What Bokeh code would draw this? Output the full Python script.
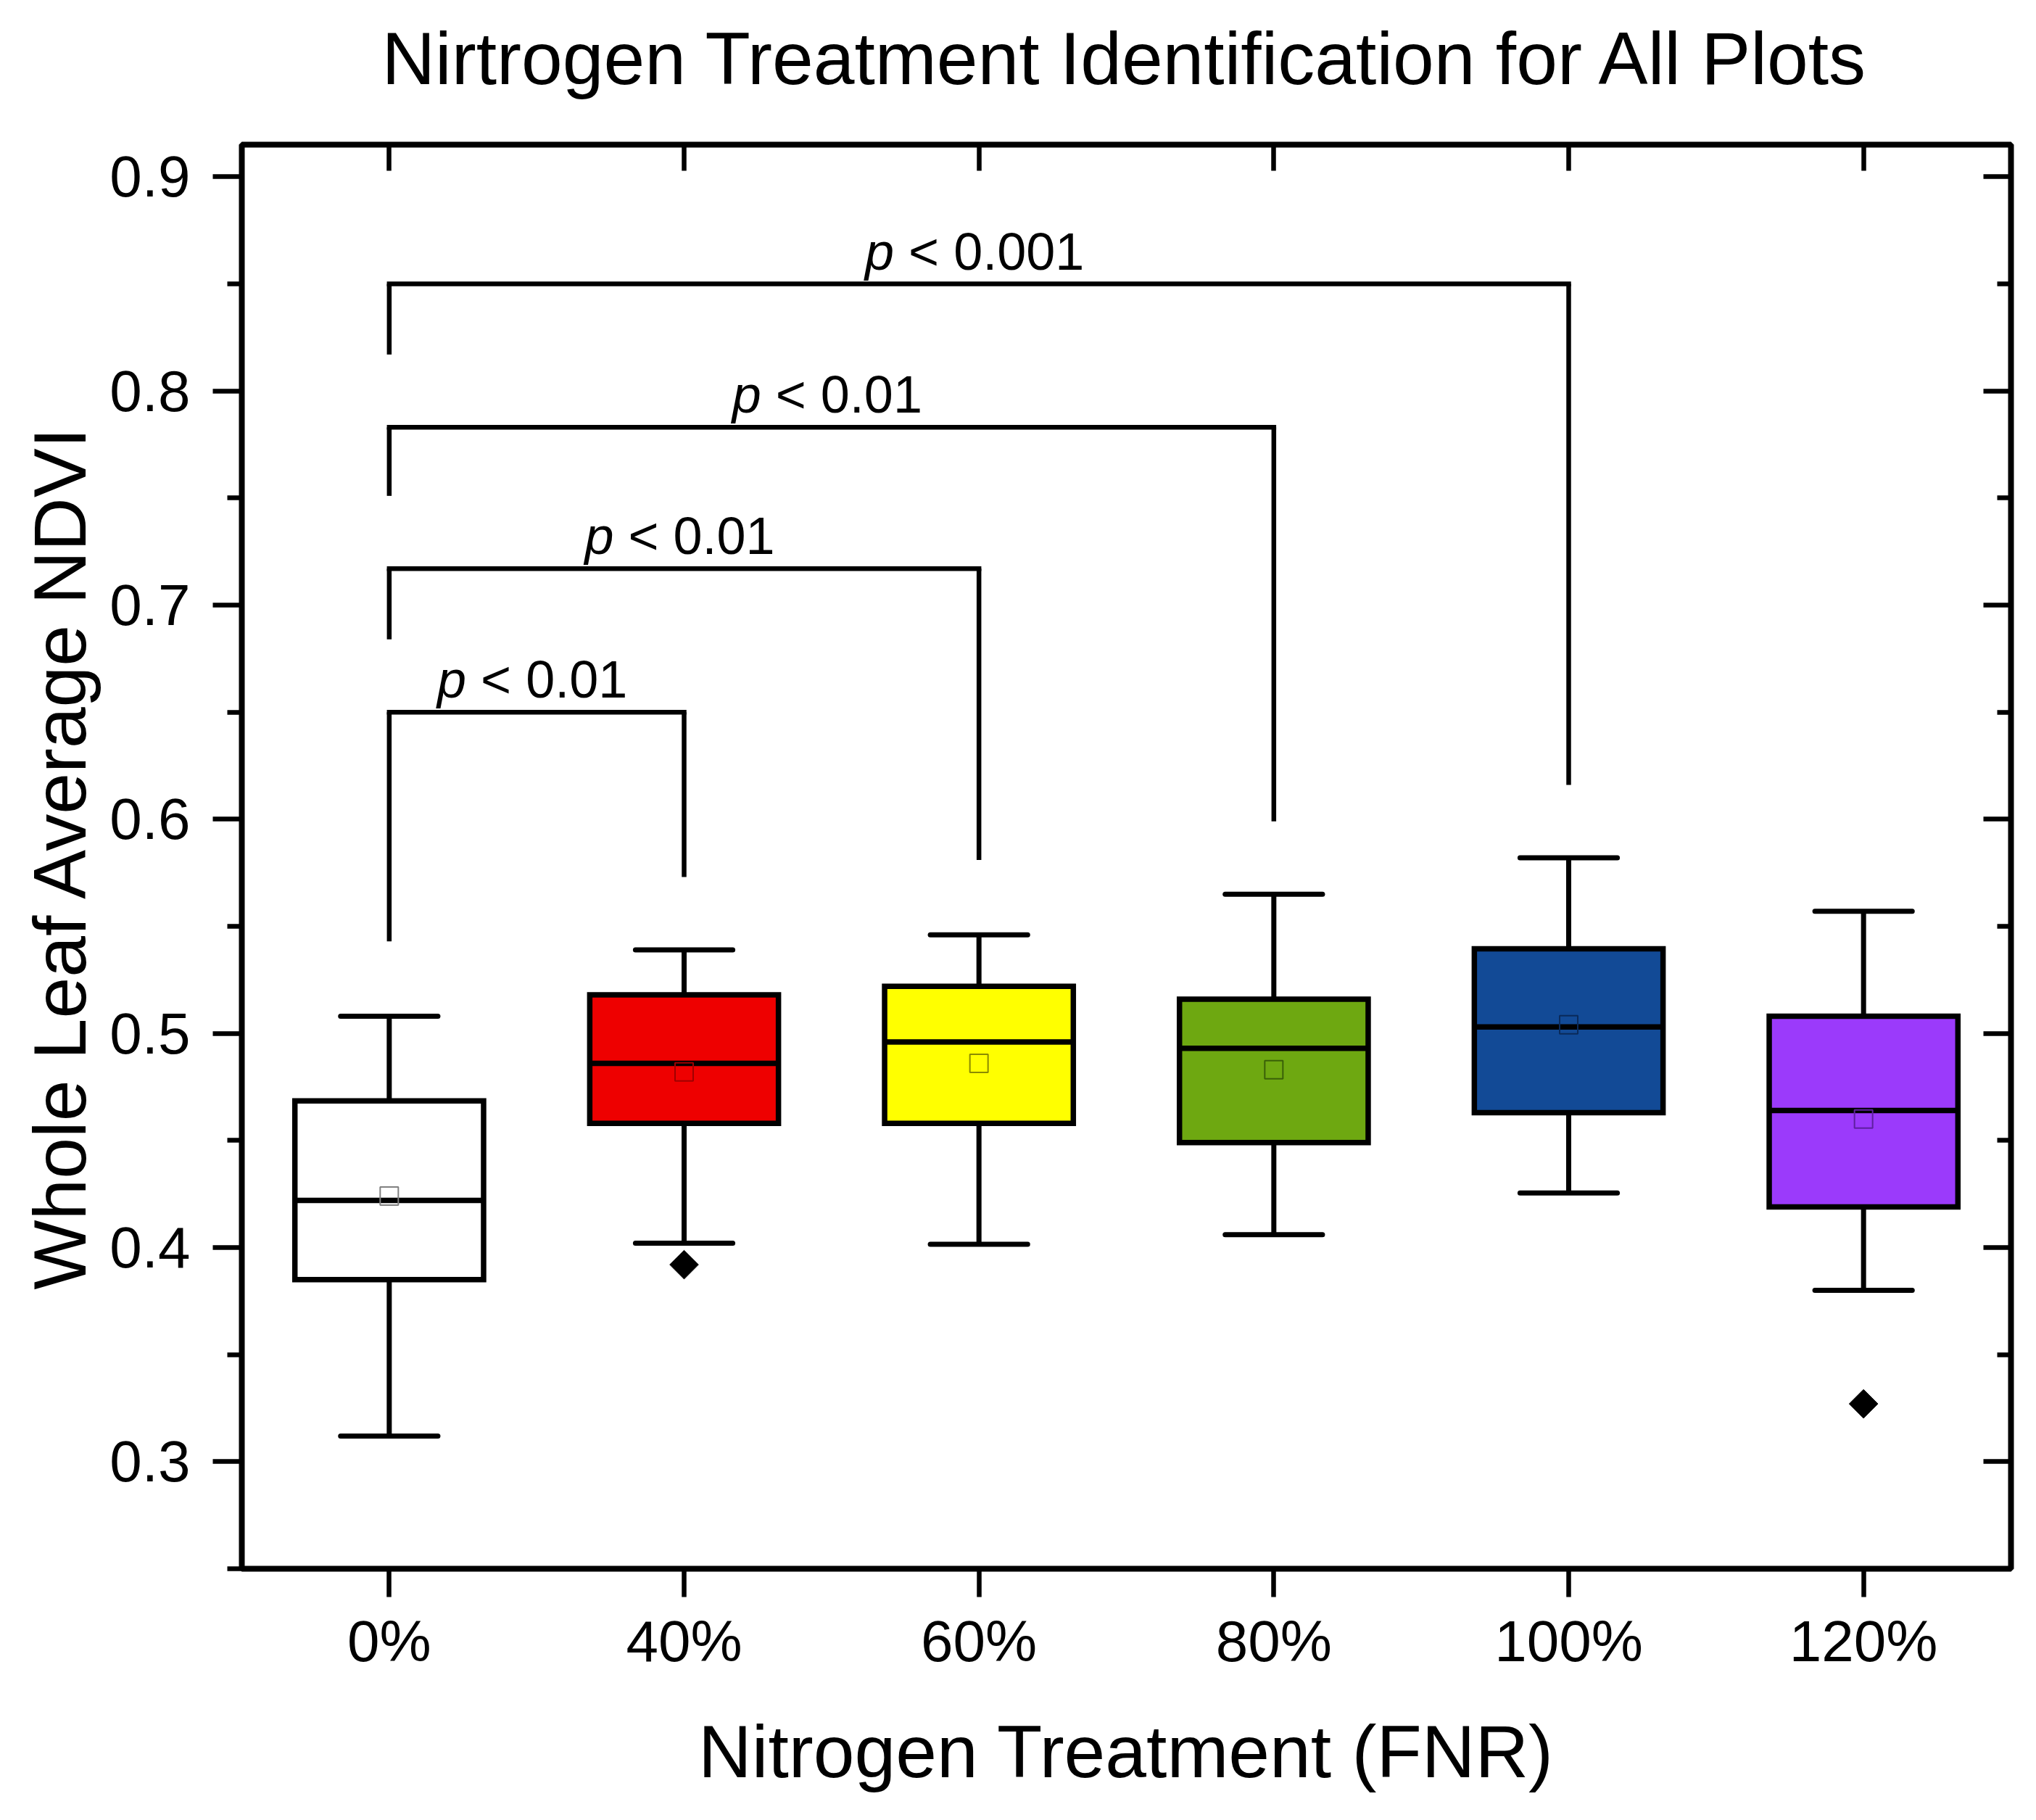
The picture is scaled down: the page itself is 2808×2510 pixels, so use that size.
from bokeh.plotting import figure
from bokeh.models import LinearAxis, FixedTicker, Range1d, ColumnDataSource, NumeralTickFormatter
from bokeh.core.properties import value
from bokeh.embed import file_html
from bokeh.resources import INLINE

# ---------------- data ----------------
title_text = "Nirtrogen Treatment Identification for All Plots"
categories = ["0%", "40%", "60%", "80%", "100%", "120%"]
whisker_hi = [0.508, 0.539, 0.546, 0.565, 0.582, 0.557]
q3 = [0.4685, 0.518, 0.522, 0.516, 0.5395, 0.508]
median = [0.422, 0.486, 0.496, 0.493, 0.503, 0.464]
q1 = [0.385, 0.458, 0.458, 0.449, 0.463, 0.419]
whisker_lo = [0.312, 0.402, 0.4015, 0.406, 0.4255, 0.380]
means = [0.424, 0.482, 0.486, 0.483, 0.504, 0.460]
outlier_idx = [1, 5]
outlier_val = [0.392, 0.327]

bracket_from = [0, 0, 0, 0]
bracket_to = [1, 2, 3, 4]
bracket_top = [0.650, 0.717, 0.783, 0.850]
bracket_left_end = [0.543, 0.684, 0.751, 0.817]
bracket_right_end = [0.573, 0.581, 0.599, 0.616]
p_text = ["< 0.01", "< 0.01", "< 0.01", "< 0.001"]

y_ticks = [0.3, 0.4, 0.5, 0.6, 0.7, 0.8, 0.9]
y_minor = [0.25, 0.35, 0.45, 0.55, 0.65, 0.75, 0.85]

# ---------------- styles ----------------
fills = ["#FFFFFF", "#EE0000", "#FFFF00", "#6EA811", "#124A96", "#9B3AFB"]
mean_line = ["#808080", "#A00000", "#8A8A00", "#3A6008", "#0A2A5A", "#5E1FA0"]
FONT = "Liberation Sans"
BOX_W = 0.64
CAP_W = 0.33
TEXT_LIFT = 0.0152   # centre of p-value text above its bracket (data units)

xs = list(range(len(categories)))

p = figure(width=2792, height=2494, output_backend="svg", toolbar_location=None,
           x_range=Range1d(-0.5, 5.5), y_range=Range1d(0.25, 0.915),
           min_border_left=333, min_border_right=19, min_border_top=199,
           min_border_bottom=331)
p.xgrid.grid_line_color = None
p.ygrid.grid_line_color = None
p.background_fill_color = "white"
p.border_fill_color = "white"
p.outline_line_color = "black"
p.outline_line_width = 8

# bottom axis
xa = p.xaxis[0]
xa.ticker = FixedTicker(ticks=xs, minor_ticks=[])
xa.major_label_overrides = {i: c for i, c in enumerate(categories)}
xa.axis_line_color = None
xa.major_tick_out = 39
xa.major_tick_in = 0
xa.major_tick_line_width = 6.5
xa.minor_tick_line_color = None
xa.major_label_text_font = FONT
xa.major_label_text_font_size = "80px"
xa.major_label_text_color = "black"
xa.major_label_standoff = 16
xa.axis_label = "Nitrogen Treatment (FNR)"
xa.axis_label_text_font = FONT
xa.axis_label_text_font_size = "102px"
xa.axis_label_text_font_style = "normal"
xa.axis_label_text_color = "black"
xa.axis_label_standoff = 48

# left axis
ya = p.yaxis[0]
ya.ticker = FixedTicker(ticks=y_ticks, minor_ticks=y_minor)
ya.formatter = NumeralTickFormatter(format="0.0")
ya.axis_line_color = None
ya.major_tick_out = 40
ya.major_tick_in = 0
ya.minor_tick_out = 20
ya.minor_tick_in = 0
ya.major_tick_line_width = 6.5
ya.minor_tick_line_width = 6.5
ya.major_label_text_font = FONT
ya.major_label_text_font_size = "80px"
ya.major_label_text_color = "black"
ya.major_label_standoff = 31
ya.axis_label = "Whole Leaf Average NDVI"
ya.axis_label_text_font = FONT
ya.axis_label_text_font_size = "102px"
ya.axis_label_text_font_style = "normal"
ya.axis_label_text_color = "black"
ya.axis_label_standoff = 8

# top axis (inward ticks); its axis label carries the chart title
top = LinearAxis(ticker=FixedTicker(ticks=xs, minor_ticks=[]),
                 major_tick_in=36, major_tick_out=0, major_tick_line_width=6.5,
                 minor_tick_line_color=None, axis_line_color=None,
                 major_label_text_font_size="0px", major_label_standoff=0,
                 major_label_text_color=None,
                 axis_label=title_text, axis_label_text_font=FONT,
                 axis_label_text_font_size="102px", axis_label_text_font_style="normal",
                 axis_label_text_color="black", axis_label_standoff=62)
p.add_layout(top, "above")

# right axis (inward ticks)
right = LinearAxis(ticker=FixedTicker(ticks=y_ticks, minor_ticks=y_minor),
                   major_tick_in=38, major_tick_out=0, minor_tick_in=19, minor_tick_out=0,
                   major_tick_line_width=6.5, minor_tick_line_width=6.5,
                   axis_line_color=None,
                   major_label_text_font_size="0px", major_label_standoff=0,
                   major_label_text_color=None)
p.add_layout(right, "right")

# ---------------- boxes ----------------
src = ColumnDataSource(dict(
    x=xs, hi=whisker_hi, q3=q3, med=median, q1=q1, lo=whisker_lo, mean=means,
    fill=fills, mline=mean_line,
    xl=[x - BOX_W / 2 for x in xs], xr=[x + BOX_W / 2 for x in xs],
    cl=[x - CAP_W / 2 for x in xs], cr=[x + CAP_W / 2 for x in xs],
))

p.segment(x0="x", y0="q3", x1="x", y1="hi", line_color="black", line_width=7, source=src)
p.segment(x0="x", y0="q1", x1="x", y1="lo", line_color="black", line_width=7, source=src)
p.vbar(x="x", width=BOX_W, top="q3", bottom="q1", fill_color="fill",
       line_color="black", line_width=7.5, line_join="miter", source=src)
p.segment(x0="cl", y0="hi", x1="cr", y1="hi", line_color="black", line_width=7,
          line_cap="round", source=src)
p.segment(x0="cl", y0="lo", x1="cr", y1="lo", line_color="black", line_width=7,
          line_cap="round", source=src)
p.segment(x0="xl", y0="med", x1="xr", y1="med", line_color="black", line_width=7.5, source=src)
p.scatter(x="x", y="mean", marker="square", size=25, fill_color=None,
          line_color="mline", line_width=2, source=src)

# outliers
p.scatter(x=outlier_idx, y=outlier_val, marker="square", angle=0.785398,
          size=28, fill_color="black", line_color="black")

# ---------------- significance brackets ----------------
bsrc = ColumnDataSource(dict(
    xa=bracket_from, xb=bracket_to, top=bracket_top,
    la=bracket_left_end, ra=bracket_right_end,
))
p.segment(x0="xa", y0="top", x1="xb", y1="top", line_color="black", line_width=6.5,
          line_cap="square", source=bsrc)
p.segment(x0="xa", y0="la", x1="xa", y1="top", line_color="black", line_width=6.5, source=bsrc)
p.segment(x0="xb", y0="ra", x1="xb", y1="top", line_color="black", line_width=6.5, source=bsrc)

# p-value texts (italic p + normal rest), centred on the bracket
cw = {"p": 0.556, " ": 0.278, "<": 0.584, "0": 0.556, ".": 0.278, "1": 0.556}
FS = 72
mids, p_off, r_off, ty = [], [], [], []
for a, b, t, yt in zip(bracket_from, bracket_to, p_text, bracket_top):
    full = "p " + t
    w = sum(cw.get(c, 0.556) for c in full) * FS
    mids.append((a + b) / 2)
    ty.append(yt + TEXT_LIFT)
    p_off.append(-w / 2 - 6)
    r_off.append(-w / 2 - 6 + (cw["p"] + cw[" "]) * FS)

tsrc = ColumnDataSource(dict(x=mids, y=ty, txt=p_text,
                             p=["p"] * len(p_text), po=p_off, ro=r_off))
p.text(x="x", y="y", text="p", x_offset="po", text_align="left",
       text_baseline="middle", text_font=value(FONT), text_font_size="72px",
       text_font_style="italic", text_color="black", source=tsrc)
p.text(x="x", y="y", text="txt", x_offset="ro", text_align="left",
       text_baseline="middle", text_font=value(FONT), text_font_size="72px",
       text_color="black", source=tsrc)

open("out.html", "w").write(file_html(p, INLINE))
